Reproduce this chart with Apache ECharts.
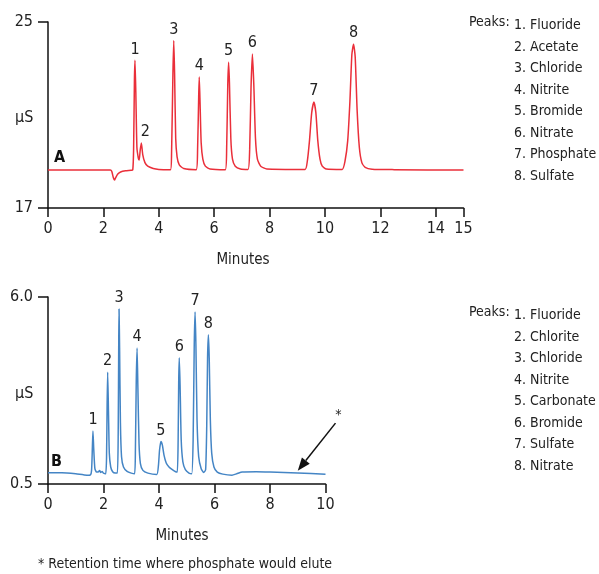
<!DOCTYPE html>
<html>
<head>
<meta charset="utf-8">
<script src="https://cdn.jsdelivr.net/npm/echarts@6/dist/echarts.min.js"></script>
<style>
  html, body { margin: 0; padding: 0; background: #fff; }
  #chart { width: 599px; height: 574px; }
</style>
</head>
<body>
<div id="chart"></div>
<script>
// 色谱图 A：[分钟, µS]
var traceA = [
  [0, 18.63], [2.25, 18.63], [2.30, 18.58], [2.36, 18.3], [2.40, 18.2], [2.44, 18.3],
  [2.52, 18.46], [2.62, 18.55], [2.8, 18.6], [3.0, 18.62], [3.06, 18.64],
  [3.09, 19.5], [3.12, 22.5], [3.14, 23.35], [3.17, 22.0], [3.21, 19.6], [3.26, 19.15],
  [3.29, 19.06], [3.33, 19.5], [3.37, 19.8], [3.42, 19.3], [3.5, 18.95], [3.6, 18.8],
  [3.8, 18.7], [4.0, 18.66], [4.42, 18.65],
  [4.46, 19.3], [4.51, 22.8], [4.54, 24.2], [4.57, 22.8], [4.61, 20.0], [4.66, 19.2],
  [4.74, 18.85], [4.9, 18.7], [5.35, 18.65],
  [5.40, 19.5], [5.44, 21.8], [5.46, 22.63], [5.49, 21.5], [5.53, 19.8], [5.59, 19.1],
  [5.68, 18.8], [5.85, 18.68], [6.40, 18.65],
  [6.45, 19.6], [6.49, 22.3], [6.52, 23.27], [6.55, 22.4], [6.60, 20.0], [6.66, 19.1],
  [6.76, 18.8], [6.95, 18.68], [7.22, 18.66],
  [7.28, 19.5], [7.33, 22.2], [7.38, 23.62], [7.43, 22.3], [7.49, 20.0], [7.56, 19.1],
  [7.68, 18.8], [7.9, 18.68], [9.28, 18.66],
  [9.36, 19.0], [9.44, 19.9], [9.52, 21.1], [9.60, 21.56], [9.67, 21.1], [9.74, 19.9],
  [9.82, 19.1], [9.90, 18.8], [10.05, 18.68], [10.62, 18.66],
  [10.72, 19.0], [10.82, 19.9], [10.90, 21.6], [10.97, 23.6], [11.03, 24.04],
  [11.09, 23.5], [11.16, 21.2], [11.24, 19.6], [11.33, 18.95], [11.45, 18.75],
  [11.7, 18.67], [12.5, 18.65], [15, 18.63]
];
var peaksA = [[3.14, 23.35], [3.37, 19.8], [4.54, 24.2], [5.46, 22.63], [6.52, 23.27], [7.38, 23.62], [9.60, 21.56], [11.03, 24.04]];
var namesA = ['Fluoride', 'Acetate', 'Chloride', 'Nitrite', 'Bromide', 'Nitrate', 'Phosphate', 'Sulfate'];

// 色谱图 B
var traceB = [
  [0, 0.83], [0.5, 0.83], [1.0, 0.8], [1.4, 0.76], [1.53, 0.77],
  [1.57, 0.9], [1.60, 1.6], [1.62, 2.06], [1.65, 1.5], [1.69, 0.95], [1.75, 0.85],
  [1.82, 0.86], [1.86, 0.9], [1.90, 0.84], [1.95, 0.87], [2.0, 0.82], [2.08, 0.8],
  [2.11, 1.3], [2.13, 2.8], [2.15, 3.79], [2.18, 2.6], [2.21, 1.4], [2.26, 1.0],
  [2.33, 0.86], [2.42, 0.82], [2.50, 0.82],
  [2.53, 2.0], [2.55, 4.8], [2.56, 5.65], [2.58, 4.5], [2.61, 2.3], [2.65, 1.3],
  [2.72, 1.0], [2.85, 0.87], [3.0, 0.82], [3.12, 0.8],
  [3.15, 1.5], [3.18, 3.5], [3.21, 4.5], [3.24, 3.3], [3.28, 1.7], [3.33, 1.1],
  [3.42, 0.9], [3.6, 0.82], [3.92, 0.78],
  [3.98, 1.05], [4.02, 1.5], [4.07, 1.75], [4.12, 1.65], [4.18, 1.35], [4.26, 1.12],
  [4.36, 1.0], [4.48, 0.92], [4.60, 0.86], [4.66, 0.85],
  [4.69, 1.8], [4.71, 3.5], [4.73, 4.21], [4.76, 3.4], [4.80, 1.8], [4.86, 1.15],
  [4.95, 0.92], [5.08, 0.82], [5.18, 0.8],
  [5.23, 1.8], [5.27, 4.6], [5.30, 5.56], [5.33, 4.6], [5.37, 2.4], [5.43, 1.3],
  [5.52, 0.95], [5.61, 0.84], [5.68, 0.92],
  [5.72, 2.2], [5.75, 4.2], [5.78, 4.89], [5.81, 4.2], [5.85, 2.4], [5.90, 1.4],
  [5.98, 1.0], [6.1, 0.85], [6.3, 0.79], [6.63, 0.76], [6.8, 0.8], [7.0, 0.85],
  [7.5, 0.86], [8.0, 0.85], [9.0, 0.82], [10.0, 0.79]
];
var peaksB = [[1.62, 2.06], [2.15, 3.79], [2.56, 5.65], [3.21, 4.5], [4.07, 1.75], [4.73, 4.21], [5.30, 5.56], [5.78, 4.89]];
var namesB = ['Fluoride', 'Chlorite', 'Chloride', 'Nitrite', 'Carbonate', 'Bromide', 'Sulfate', 'Nitrate'];

// 箭头：磷酸盐保留时间
var arrowFrom = [10.36, 2.29];
var arrowTo = [9.0, 0.89];

var FONT = '"Liberation Sans Narrow", "DejaVu Sans Condensed", "Noto Sans", sans-serif';
var TXT = '#222';

function peakMarks(peaks) {
  return peaks.map(function (p, i) {
    var item = { coord: p, value: i + 1 };
    if (i === 1 && peaks === peaksA) {
      item.label = { offset: [4, 0] };
    }
    return item;
  });
}

function legendText(names, top) {
  var lines = names.map(function (n, i) { return (i + 1) + '. ' + n; }).join('\n');
  return [
    { type: 'text', left: 469, top: top, style: { text: 'Peaks:', font: '14px ' + FONT, fill: TXT } },
    { type: 'text', left: 514, top: top, style: { text: lines, font: '14px ' + FONT, fill: TXT, lineHeight: 21.5 } }
  ];
}

function axisCommon(extra) {
  var base = {
    type: 'value',
    axisLine: { show: true, lineStyle: { color: '#111', width: 1.5 } },
    axisTick: { show: true, length: 9, lineStyle: { color: '#111', width: 1.5 } },
    axisLabel: { color: TXT, fontSize: 16, fontFamily: FONT },
    splitLine: { show: false }
  };
  return Object.assign(base, extra);
}

var chart = echarts.init(document.getElementById('chart'));
chart.setOption({
  animation: false,
  grid: [
    { left: 48, top: 22, width: 415.5, height: 186 },
    { left: 48, top: 297, width: 277.5, height: 187 }
  ],
  xAxis: [
    axisCommon({ gridIndex: 0, min: 0, max: 15, interval: 2, axisLabel: { color: TXT, fontSize: 16, fontFamily: FONT, margin: 13 } }),
    axisCommon({ gridIndex: 1, min: 0, max: 10, interval: 2, axisLabel: { color: TXT, fontSize: 16, fontFamily: FONT, margin: 13 } })
  ],
  yAxis: [
    axisCommon({ gridIndex: 0, min: 17, max: 25, interval: 8, axisTick: { show: true, length: 10, lineStyle: { color: '#111', width: 1.5 } },
      axisLabel: { color: TXT, fontSize: 16, fontFamily: FONT, margin: 15 } }),
    axisCommon({ gridIndex: 1, min: 0.5, max: 6.0, interval: 5.5, axisTick: { show: true, length: 10, lineStyle: { color: '#111', width: 1.5 } },
      axisLabel: { color: TXT, fontSize: 16, fontFamily: FONT, margin: 15, formatter: function (v) { return v.toFixed(1); } } })
  ],
  series: [
    {
      type: 'line', xAxisIndex: 0, yAxisIndex: 0, data: traceA,
      showSymbol: false, symbol: 'none', smooth: 0.2,
      lineStyle: { color: '#ea2f3a', width: 1.5 },
      markPoint: {
        symbol: 'circle', symbolSize: 0,
        label: { show: true, position: 'top', distance: 3, color: TXT, fontSize: 16, fontFamily: FONT, formatter: '{c}' },
        data: peakMarks(peaksA)
      }
    },
    {
      type: 'line', xAxisIndex: 1, yAxisIndex: 1, data: traceB,
      showSymbol: false, symbol: 'none', smooth: 0.2,
      lineStyle: { color: '#4485c5', width: 1.5 },
      markPoint: {
        symbol: 'circle', symbolSize: 0,
        label: { show: true, position: 'top', distance: 3, color: TXT, fontSize: 16, fontFamily: FONT, formatter: '{c}' },
        data: peakMarks(peaksB)
      }
    }
  ],
  graphic: [].concat(
    legendText(namesA, 15),
    legendText(namesB, 305),
    [
      { type: 'text', left: 54, top: 150, style: { text: 'A', font: 'bold 16px ' + FONT, fill: '#111' } },
      { type: 'text', left: 51, top: 454, style: { text: 'B', font: 'bold 16px ' + FONT, fill: '#111' } },
      { type: 'text', left: 15, top: 110, style: { text: 'µS', font: '16px ' + FONT, fill: TXT } },
      { type: 'text', left: 15, top: 386, style: { text: 'µS', font: '16px ' + FONT, fill: TXT } },
      { type: 'text', x: 243, y: 260, style: { text: 'Minutes', font: '15px ' + FONT, fill: TXT, textAlign: 'center', textVerticalAlign: 'middle' } },
      { type: 'text', x: 182, y: 536, style: { text: 'Minutes', font: '15px ' + FONT, fill: TXT, textAlign: 'center', textVerticalAlign: 'middle' } },
      { type: 'text', x: 38, y: 564, style: { text: '* Retention time where phosphate would elute', font: '14px ' + FONT, fill: TXT, textVerticalAlign: 'middle' } }
    ]
  )
});

// 箭头画在坐标系外，用 convertToPixel 换算位置
var p1 = chart.convertToPixel({ gridIndex: 1 }, arrowFrom);
var p2 = chart.convertToPixel({ gridIndex: 1 }, arrowTo);
var dx = p2[0] - p1[0], dy = p2[1] - p1[1];
var len = Math.sqrt(dx * dx + dy * dy);
var ux = dx / len, uy = dy / len;
var headLen = 13, headHalf = 5;
var bx = p2[0] - ux * headLen, by = p2[1] - uy * headLen;
chart.setOption({
  graphic: [
    { type: 'line', id: 'arrowLine', shape: { x1: p1[0], y1: p1[1], x2: bx, y2: by }, style: { stroke: '#111', lineWidth: 1.5 } },
    { type: 'polygon', id: 'arrowHead', shape: { points: [[p2[0], p2[1]], [bx - uy * headHalf, by + ux * headHalf], [bx + uy * headHalf, by - ux * headHalf]] }, style: { fill: '#111' } },
    { type: 'text', id: 'star', x: p1[0] + 3, y: p1[1] - 8, style: { text: '*', font: '14px ' + FONT, fill: TXT, textAlign: 'center', textVerticalAlign: 'middle' } }
  ]
});
</script>
</body>
</html>
